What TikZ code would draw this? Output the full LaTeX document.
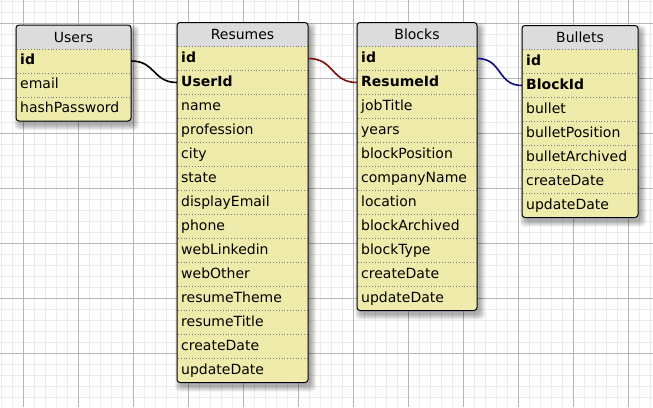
\documentclass[tikz,border=0pt]{standalone}
\usepackage{fontspec}
\setmainfont{DejaVu Sans}
\definecolor{bodyfill}{RGB}{239,235,170}
\definecolor{headfill}{RGB}{220,220,220}
\definecolor{gridminor}{RGB}{236,236,236}
\definecolor{gridmajor}{RGB}{182,182,182}
\definecolor{sepcol}{RGB}{120,120,130}
\definecolor{linkred}{RGB}{130,10,10}
\definecolor{linkblue}{RGB}{10,10,135}
\tikzset{
  titletext/.style={inner sep=0pt, font=\fontsize{14}{16}\selectfont},
  rowtext/.style={anchor=west, inner xsep=4pt, inner ysep=0pt, minimum height=24pt,
    align=left, text height=10pt, text depth=3pt, font=\fontsize{14}{16}\selectfont},
  sepline/.style={sepcol, line width=0.8pt, dotted},
  tableborder/.style={black, line width=1pt, rounded corners=3pt},
  link/.style={line width=1.6pt},
}
\newcommand\erdtable[8]{%
  \pgfmathsetmacro\tbot{#3+24*(#7+1)}
  \pgfmathsetmacro\tw{#4-8}
  \foreach \k in {0,...,5}{
    \fill[black, opacity=0.06, rounded corners=4pt] (#2+3-\k,#3+5-\k) rectangle (#2+#4+3+\k,\tbot+4+\k);
  }
  \fill[bodyfill, rounded corners=3pt] (#2,#3) rectangle (#2+#4,\tbot);
  \fill[headfill] (#2,#3+24) [rounded corners=3pt]-- (#2,#3) -- (#2+#4,#3) [sharp corners]-- (#2+#4,#3+24) -- cycle;
  \node[titletext] (#1-title) at (#2+#4/2,#3+12) {#5};
  \foreach \f [count=\i] in {#8}{
    \pgfmathsetmacro\ry{#3+24*\i}
    \draw[sepline] (#2+1,\ry) -- (#2+#4-1,\ry);
    \node[rowtext, text width=\tw pt] (#1-\i) at (#2,\ry+12) {\ifnum\i>#6 \f\else\textbf{\f}\fi};
  }
  \draw[tableborder] (#2,#3) rectangle (#2+#4,\tbot);
}
\begin{document}
\begin{tikzpicture}[x=1pt,y=-1pt]
\useasboundingbox (0,0) rectangle (653,407);
\fill[white] (0,0) rectangle (653,407);
% grid
\foreach \i in {0,...,59}{
  \draw[gridminor, line width=1pt] (1.3+11*\i,0) -- (1.3+11*\i,407);
}
\foreach \i in {0,...,37}{
  \draw[gridminor, line width=1pt] (0,1.3+11*\i) -- (653,1.3+11*\i);
}
\foreach \i in {0,...,11}{
  \draw[gridmajor, line width=1pt] (23.3+55*\i,0) -- (23.3+55*\i,407);
}
\foreach \i in {0,...,7}{
  \draw[gridmajor, line width=1pt] (0,23.3+55*\i) -- (653,23.3+55*\i);
}
% tables
\erdtable{users}{16}{25}{115}{Users}{1}{3}{id,email,hashPassword}
\erdtable{resumes}{177}{22.5}{131}{Resumes}{2}{14}{id,UserId,name,profession,city,state,displayEmail,phone,webLinkedin,webOther,resumeTheme,resumeTitle,createDate,updateDate}
\erdtable{blocks}{357}{22.5}{120}{Blocks}{2}{11}{id,ResumeId,jobTitle,years,blockPosition,companyName,location,blockArchived,blockType,createDate,updateDate}
\erdtable{bullets}{522}{25.5}{116}{Bullets}{2}{7}{id,BlockId,bullet,bulletPosition,bulletArchived,createDate,updateDate}
% links
\draw[link, black] (users-1.east) .. controls +(24,0) and +(-24,0) .. (resumes-2.west);
\draw[link, linkred] (resumes-1.east) .. controls +(26,0) and +(-26,0) .. (blocks-2.west);
\draw[link, linkblue] (blocks-1.east) .. controls +(25,0) and +(-25,0) .. (bullets-2.west);
\end{tikzpicture}
\end{document}
